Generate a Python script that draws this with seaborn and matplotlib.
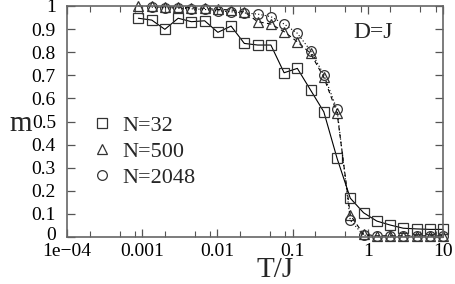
import numpy as np
import pandas as pd
import seaborn as sns
import matplotlib.pyplot as plt
import matplotlib.transforms as mtransforms
from matplotlib.lines import Line2D
from matplotlib.ticker import FixedLocator, LogLocator, NullFormatter

# T/J values
T = [0.00089, 0.00134, 0.00200, 0.00301, 0.00451, 0.00677, 0.01015, 0.0152,
     0.0228, 0.0343, 0.0514, 0.0771, 0.1156, 0.1734, 0.260, 0.390,
     0.585, 0.878, 1.317, 1.975, 2.963, 4.444, 6.667, 10.0]

m_32 = [0.947, 0.939, 0.899, 0.947, 0.932, 0.936, 0.886, 0.913,
        0.838, 0.831, 0.831, 0.711, 0.730, 0.636, 0.542, 0.341,
        0.168, 0.105, 0.069, 0.052, 0.038, 0.035, 0.033, 0.033]

m_500 = [1.0, 0.998, 0.997, 0.995, 0.993, 0.99, 0.985, 0.983,
         0.975, 0.932, 0.922, 0.889, 0.845, 0.795, 0.691, 0.538,
         0.095, 0.012, 0.005, 0.005, 0.005, 0.005, 0.005, 0.005]

# N=2048 starts at the second temperature
m_2048 = [0.995, 0.993, 0.99, 0.988, 0.985, 0.98, 0.975,
          0.97, 0.965, 0.954, 0.922, 0.882, 0.806, 0.703, 0.552,
          0.072, 0.008, 0.003, 0.003, 0.003, 0.003, 0.003, 0.003]

xticks = [1e-4, 1e-3, 1e-2, 1e-1, 1, 10]
xtick_labels = ['1e\u221204', '0.001', '0.01', '0.1', '1', '10']
yticks = [0, 0.1, 0.2, 0.3, 0.4, 0.5, 0.6, 0.7, 0.8, 0.9, 1]
ytick_labels = ['0', '0.1', '0.2', '0.3', '0.4', '0.5', '0.6', '0.7', '0.8', '0.9', '1']

sns.set_style('ticks')
plt.rcParams['font.family'] = ['Liberation Serif', 'DejaVu Serif']

fig = plt.figure(figsize=(4.56, 2.84), dpi=100)
# axes box: x 67..443 px, y 6..237 px
ax = fig.add_axes([67 / 456, 1 - 237 / 284, 376 / 456, 231 / 284])

ink = '#333333'
ms = 7
mk = dict(markersize=ms, markerfacecolor='none', markeredgecolor=ink,
          markeredgewidth=0.9, clip_on=False)

df32 = pd.DataFrame({'T': T, 'm': m_32})
df500 = pd.DataFrame({'T': T, 'm': m_500})
df2048 = pd.DataFrame({'T': T[1:], 'm': m_2048})

sns.lineplot(data=df32, x='T', y='m', ax=ax, color='black', lw=0.8,
             marker='s', **mk)
sns.lineplot(data=df500, x='T', y='m', ax=ax, color='black', lw=0.8,
             linestyle=(0, (4, 3)), marker='^', **mk)
sns.lineplot(data=df2048, x='T', y='m', ax=ax, color='black', lw=0.8,
             linestyle=(0, (1, 2)), marker='o', **mk)

ax.set_xscale('log')
ax.set_xlim(1e-4, 10)
ax.set_ylim(0, 1)
ax.xaxis.set_major_locator(FixedLocator(xticks))
ax.set_xticklabels(xtick_labels)
ax.xaxis.set_minor_locator(LogLocator(base=10, subs=[2, 5, 8]))
ax.xaxis.set_minor_formatter(NullFormatter())
ax.set_yticks(yticks)
ax.set_yticklabels(ytick_labels)

ax.tick_params(which='major', direction='in', length=6, width=0.9, colors='#555555',
               labelcolor='black', labelsize=14, top=True, right=True)
ax.tick_params(axis='y', pad=8)
ax.tick_params(axis='x', pad=4)
ax.tick_params(which='minor', direction='in', length=4, width=0.8, colors='#555555',
               top=True, right=True)
for s in ax.spines.values():
    s.set_color('#666666')
    s.set_linewidth(1.2)

# nudge the "0" label up a little so it clears "1e-04"
lab0 = ax.get_yticklabels()[0]
lab0.set_transform(lab0.get_transform() +
                   mtransforms.ScaledTranslation(0, 3 / 100, fig.dpi_scale_trans))

ax.set_xlabel('T/J', fontsize=21, va='center')
ax.xaxis.set_label_coords(0.553, -0.145)
ax.set_ylabel('m', fontsize=21, rotation=0, va='center', ha='center')
ax.yaxis.set_label_coords(-0.122, 0.49)

ax.text(0.762, 0.861, 'D=J', transform=ax.transAxes, fontsize=17, va='baseline')

handles = [
    Line2D([], [], ls='none', marker='s', markersize=ms, markerfacecolor='none',
           markeredgecolor=ink, markeredgewidth=0.9),
    Line2D([], [], ls='none', marker='^', markersize=ms, markerfacecolor='none',
           markeredgecolor=ink, markeredgewidth=0.9),
    Line2D([], [], ls='none', marker='o', markersize=ms, markerfacecolor='none',
           markeredgecolor=ink, markeredgewidth=0.9),
]
ax.legend(handles, ['N=32', 'N=500', 'N=2048'], loc='center left',
          bbox_to_anchor=(0.07, 0.37), frameon=False, fontsize=16,
          handlelength=0.8, handletextpad=0.5, labelspacing=0.25,
          borderaxespad=0, borderpad=0)

fig.savefig('out.png', dpi=100)
